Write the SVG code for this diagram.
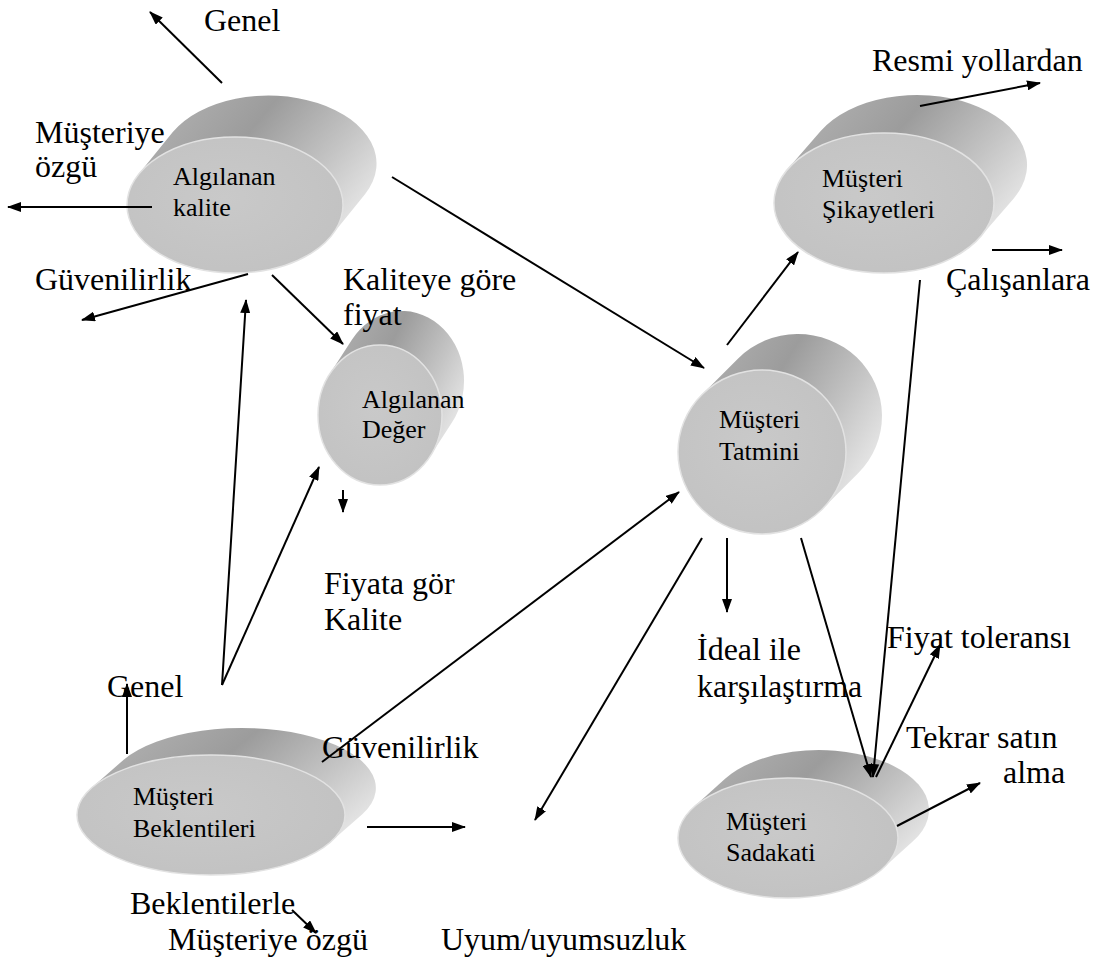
<svg xmlns="http://www.w3.org/2000/svg" width="1098" height="962" viewBox="0 0 1098 962">
<defs>
<linearGradient id="body" x1="0" y1="0" x2="1" y2="0.6">
<stop offset="0" stop-color="#b8b8b8"/>
<stop offset="0.45" stop-color="#9c9c9c"/>
<stop offset="0.75" stop-color="#c4c4c4"/>
<stop offset="1" stop-color="#e8e8e8"/>
</linearGradient>
<radialGradient id="face" cx="0.45" cy="0.45" r="0.6">
<stop offset="0" stop-color="#c9c9c9"/>
<stop offset="1" stop-color="#c2c2c2"/>
</radialGradient>
<marker id="ah" viewBox="0 0 14 10" refX="13" refY="5" markerWidth="14" markerHeight="10" markerUnits="userSpaceOnUse" orient="auto">
<path d="M0,0 L14,5 L0,10 Z" fill="#000"/>
</marker>
</defs>
<style>
.body{fill:url(#body);}
.face{fill:url(#face);stroke:#e2e2e2;stroke-width:1.5;}
.nl{font-family:"Liberation Serif","Times New Roman",serif;font-size:26px;fill:#000;}
.lb{font-family:"Liberation Serif","Times New Roman",serif;font-size:32px;fill:#000;}
.c{stroke:#000;stroke-width:2;fill:none;marker-end:url(#ah);}
</style>
<rect width="1098" height="962" fill="#fff"/>

<g id="node-algilanan-kalite">
<path class="body" d="M138.8,174.1 L172.8,132.1 A108,68 0 0 1 365.2,193.9 L331.2,235.9 A108,68 0 0 1 138.8,174.1 Z"/>
<ellipse class="face" cx="235" cy="205" rx="108" ry="68"/>
<text class="nl" x="173" y="185">Algılanan</text>
<text class="nl" x="173" y="216">kalite</text>
</g>

<g id="node-algilanan-deger">
<path class="body" d="M329.9,373.7 L351.9,339.7 A62,70 0 0 1 452.1,422.3 L430.1,456.3 A62,70 0 0 1 329.9,373.7 Z"/>
<ellipse class="face" cx="380" cy="415" rx="62" ry="70"/>
<text class="nl" x="362" y="408">Algılanan</text>
<text class="nl" x="362" y="438">Değer</text>
</g>

<g id="node-musteri-tatmini">
<path class="body" d="M701.9,394.7 L737.9,358.7 A84,82 0 0 1 858.1,473.3 L822.1,509.3 A84,82 0 0 1 701.9,394.7 Z"/>
<ellipse class="face" cx="762" cy="452" rx="84" ry="82"/>
<text class="nl" x="719" y="428">Müşteri</text>
<text class="nl" x="719" y="460">Tatmini</text>
</g>

<g id="node-musteri-sikayetleri">
<path class="body" d="M787.7,169.1 L820.7,131.1 A110,70 0 0 1 1013.3,198.9 L980.3,236.9 A110,70 0 0 1 787.7,169.1 Z"/>
<ellipse class="face" cx="884" cy="203" rx="110" ry="70"/>
<text class="nl" x="822" y="187">Müşteri</text>
<text class="nl" x="822" y="218">Şikayetleri</text>
</g>

<g id="node-musteri-sadakati">
<path class="body" d="M693.8,807 L724.8,779 A110,60 0 0 1 913.2,841 L882.2,869 A110,60 0 0 1 693.8,807 Z"/>
<ellipse class="face" cx="788" cy="838" rx="110" ry="60"/>
<text class="nl" x="726" y="830">Müşteri</text>
<text class="nl" x="726" y="861">Sadakati</text>
</g>

<g id="node-musteri-beklentileri">
<path class="body" d="M91.7,787.7 L123.7,759.7 A134,60 0 0 1 362.3,814.3 L330.3,842.3 A134,60 0 0 1 91.7,787.7 Z"/>
<ellipse class="face" cx="211" cy="815" rx="134" ry="60"/>
<text class="nl" x="133" y="805">Müşteri</text>
<text class="nl" x="133" y="837">Beklentileri</text>
</g>

<g id="labels">
<text class="lb" x="204" y="31">Genel</text>
<text class="lb" x="35" y="143">Müşteriye</text>
<text class="lb" x="35" y="177">özgü</text>
<text class="lb" x="35" y="290">Güvenilirlik</text>
<text class="lb" x="343" y="290">Kaliteye göre</text>
<text class="lb" x="343" y="325">fiyat</text>
<text class="lb" x="324" y="594">Fiyata gör</text>
<text class="lb" x="324" y="630">Kalite</text>
<text class="lb" x="872" y="71">Resmi yollardan</text>
<text class="lb" x="946" y="290">Çalışanlara</text>
<text class="lb" x="697" y="660">İdeal ile</text>
<text class="lb" x="697" y="697">karşılaştırma</text>
<text class="lb" x="887" y="648">Fiyat toleransı</text>
<text class="lb" x="906" y="748">Tekrar satın</text>
<text class="lb" x="1003" y="783">alma</text>
<text class="lb" x="107" y="697">Genel</text>
<text class="lb" x="322" y="758">Güvenilirlik</text>
<text class="lb" x="130" y="914">Beklentilerle</text>
<text class="lb" x="168" y="950">Müşteriye özgü</text>
<text class="lb" x="441" y="950">Uyum/uyumsuzluk</text>
</g>

<g id="connectors">
<line class="c" x1="222" y1="83" x2="150" y2="12"/>
<line class="c" x1="152" y1="207" x2="8" y2="207"/>
<line class="c" x1="248" y1="274" x2="82" y2="320"/>
<line class="c" x1="272" y1="275" x2="343" y2="344"/>
<line class="c" x1="392" y1="177" x2="704" y2="368"/>
<line class="c" x1="222" y1="685" x2="246" y2="300"/>
<line class="c" x1="222" y1="685" x2="319" y2="467"/>
<line class="c" x1="343" y1="490" x2="343" y2="512"/>
<line class="c" x1="127" y1="754" x2="127" y2="684"/>
<line class="c" x1="322" y1="762" x2="679" y2="492"/>
<line class="c" x1="367" y1="827" x2="465" y2="827"/>
<line class="c" x1="702" y1="538" x2="535" y2="820"/>
<line class="c" x1="292" y1="910" x2="316" y2="933"/>
<line class="c" x1="727" y1="538" x2="727" y2="612"/>
<line class="c" x1="801" y1="538" x2="871" y2="777"/>
<line class="c" x1="727" y1="345" x2="798" y2="252"/>
<line class="c" x1="920" y1="106" x2="1040" y2="83"/>
<line class="c" x1="992" y1="250" x2="1062" y2="250"/>
<line class="c" x1="920" y1="280" x2="873" y2="777"/>
<line class="c" x1="876" y1="777" x2="940" y2="645"/>
<line class="c" x1="897" y1="826" x2="980" y2="783"/>
</g>
</svg>
